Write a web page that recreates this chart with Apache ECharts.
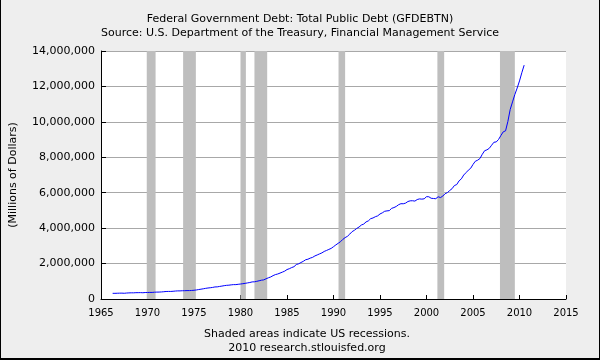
<!DOCTYPE html>
<html>
<head>
<meta charset="utf-8">
<script src="https://cdn.jsdelivr.net/npm/echarts@6/dist/echarts.min.js"></script>
<style>
html,body{margin:0;padding:0;background:#eeeeee;}
#chart{width:600px;height:360px;}
</style>
</head>
<body>
<div id="chart"></div>
<script>
// Quarterly values (millions of dollars), 1966Q1 .. 2010Q2
const startYear = 1966;
const debtValues = [
  321000, 319900, 324700, 329300,
  330900, 322900, 336100, 344700,
  349000, 347600, 356900, 358000,
  360200, 353700, 366000, 368200,
  372000, 370900, 383400, 389200,
  391100, 398100, 410300, 424100,
  427300, 427300, 436500, 449300,
  458200, 458100, 465800, 469900,
  474200, 475100, 481500, 492700,
  509700, 533200, 554700, 576600,
  601100, 620400, 635800, 653500,
  680900, 685200, 709100, 729200,
  752700, 771500, 780400, 797700,
  812300, 812300, 829500, 845100,
  864000, 883000, 907700, 930200,
  964500, 971000, 997900, 1028700,
  1061300, 1079600, 1142000, 1197100,
  1244000, 1319000, 1377200, 1410700,
  1463000, 1517000, 1572300, 1663000,
  1710000, 1774000, 1823100, 1945900,
  1986000, 2059000, 2125300, 2214800,
  2246000, 2309000, 2350300, 2431700,
  2487000, 2547000, 2602300, 2684400,
  2740000, 2799000, 2857400, 2953000,
  3052000, 3143000, 3233300, 3364800,
  3465000, 3538000, 3665300, 3801700,
  3881000, 3984000, 4064600, 4177000,
  4230000, 4352000, 4411500, 4535700,
  4575000, 4645000, 4692800, 4800200,
  4864000, 4951000, 4974000, 4988700,
  5117000, 5161000, 5224800, 5323200,
  5380000, 5376000, 5413100, 5502400,
  5542000, 5547000, 5526200, 5614200,
  5651000, 5638000, 5656300, 5776100,
  5773000, 5686000, 5674200, 5662200,
  5773000, 5726000, 5807500, 5943400,
  6006000, 6126000, 6228200, 6405700,
  6460000, 6670000, 6783200, 6998000,
  7131000, 7274000, 7379100, 7596100,
  7776000, 7836000, 7932700, 8170400,
  8371000, 8420000, 8507000, 8680200,
  8849000, 8867000, 9007700, 9229200,
  9437000, 9492000, 10024700, 10699800,
  11126000, 11545000, 11909800, 12311400,
  12773000, 13201800
];
// Recession periods [start, end] in decimal years
const recessions = [
  [1969.92, 1970.87],
  [1973.83, 1975.20],
  [1980.00, 1980.58],
  [1981.50, 1982.87],
  [1990.54, 1991.25],
  [2001.17, 2001.90],
  [2007.90, 2009.50]
];
const xTicks = {min: 1965, max: 2015, step: 5};
const yTicks = {min: 0, max: 14000000, step: 2000000};
const titleLines = ['Federal Government Debt: Total Public Debt (GFDEBTN)', 'Source: U.S. Department of the Treasury, Financial Management Service'];
const footerLines = ['Shaded areas indicate US recessions.', '2010 research.stlouisfed.org'];
const yAxisName = '(Millions of Dollars)';

const seriesData = debtValues.map((v, i) => [startYear + (i + 1) * 0.25, v]);

const chart = echarts.init(document.getElementById('chart'), null, {renderer: 'canvas'});
chart.setOption({
  backgroundColor: '#eeeeee',
  animation: false,
  title: [
    {text: titleLines.join('\n'), left: 'center', top: 7,
     textStyle: {fontFamily: 'DejaVu Sans', fontSize: 11, fontWeight: 'normal', color: '#000', lineHeight: 14}},
    {text: footerLines.join('\n'), left: 302, top: 322, textAlign: 'center',
     textStyle: {fontFamily: 'DejaVu Sans', fontSize: 11, fontWeight: 'normal', color: '#000', lineHeight: 14}}
  ],
  grid: {left: 101, right: 34, top: 51, bottom: 61, show: true, backgroundColor: '#ffffff', borderWidth: 0},
  xAxis: {
    type: 'value', min: xTicks.min, max: xTicks.max, interval: xTicks.step,
    axisLine: {show: true, onZero: false, lineStyle: {color: '#000', width: 1}},
    axisTick: {show: true, inside: true, length: 4, lineStyle: {color: '#000'}},
    axisLabel: {formatter: v => String(v), fontFamily: 'DejaVu Sans', fontSize: 10, color: '#000', margin: 9},
    splitLine: {show: false}
  },
  yAxis: {
    type: 'value', min: yTicks.min, max: yTicks.max, interval: yTicks.step,
    name: yAxisName, nameLocation: 'middle', nameGap: 82, nameRotate: 90,
    nameTextStyle: {fontFamily: 'DejaVu Sans', fontSize: 11, color: '#000'},
    axisLine: {show: true, lineStyle: {color: '#000', width: 1}},
    axisTick: {show: true, inside: true, length: 5, lineStyle: {color: '#000'}},
    axisLabel: {fontFamily: 'DejaVu Sans', fontSize: 11, color: '#000', margin: 6},
    splitLine: {show: true, lineStyle: {color: '#a8a8a8', width: 1}}
  },
  series: [{
    type: 'line',
    data: seriesData,
    showSymbol: false,
    lineStyle: {color: '#0000ff', width: 1},
    itemStyle: {color: '#0000ff'},
    z: 3,
    markArea: {
      silent: true,
      itemStyle: {color: '#bebebe', opacity: 1},
      data: recessions.map(r => [{xAxis: r[0]}, {xAxis: r[1]}])
    }
  }],
  graphic: [
    {type: 'rect', shape: {x: 0, y: 0, width: 1, height: 360}, style: {fill: '#000'}},
    {type: 'rect', shape: {x: 599, y: 0, width: 1, height: 360}, style: {fill: '#000'}},
    {type: 'rect', shape: {x: 0, y: 358, width: 600, height: 2}, style: {fill: '#000'}}
  ]
});
</script>
</body>
</html>
